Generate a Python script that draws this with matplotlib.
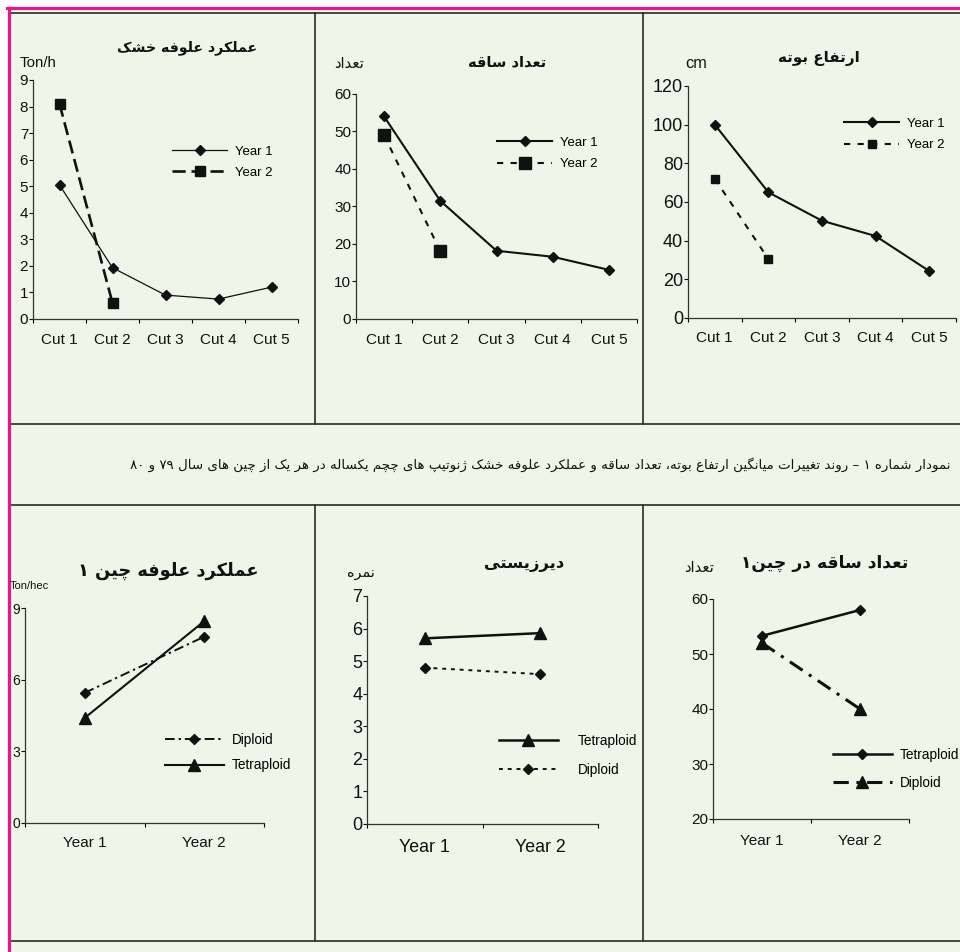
import re
import numpy as np
import matplotlib
matplotlib.use("Agg")
import matplotlib.pyplot as plt
from matplotlib import font_manager
from matplotlib.lines import Line2D
from matplotlib.patches import Rectangle

W, H = 960, 952
BG = "#eff5e9"
INK = "#111111"
FRAME = "#2b2b2b"
PINK = "#e8168c"
LATIN = ["Liberation Sans", "DejaVu Sans"]
_installed = {f.name for f in font_manager.fontManager.ttflist}
FARSI = [f for f in ("DejaVu Sans Condensed", "DejaVu Sans") if f in _installed]

# ---- data ----
cuts = ["Cut 1", "Cut 2", "Cut 3", "Cut 4", "Cut 5"]
years = ["Year 1", "Year 2"]

dm_year1 = [5.05, 1.93, 0.9, 0.75, 1.2]
dm_year2 = [8.1, 0.6]
tiller_year1 = [54, 31.5, 18.2, 16.6, 13.1]
tiller_year2 = [49, 18.1]
height_year1 = [100, 65, 50.3, 42.4, 24.3]
height_year2 = [72, 30.5]

cut1_yield_diploid = [5.45, 7.8]
cut1_yield_tetraploid = [4.4, 8.45]
persist_tetraploid = [5.7, 5.86]
persist_diploid = [4.8, 4.6]
cut1_tiller_tetraploid = [53.3, 58]
cut1_tiller_diploid = [52, 40]

# ---- texts ----
t_dm = "عملکرد علوفه خشک"
t_tiller = "تعداد ساقه"
t_height = "ارتفاع بوته"
t_cut1_yield = "عملکرد علوفه چین ۱"
t_persist = "دیرزیستی"
t_cut1_tiller = "تعداد ساقه در چین۱"
u_count = "تعداد"
u_score = "نمره"
caption = ("نمودار شماره ۱ – روند تغییرات میانگین ارتفاع بوته، تعداد ساقه و "
           "عملکرد علوفه خشک ژنوتیپ های چچم یکساله در هر یک از چین های سال ۷۹ و ۸۰")

# matplotlib has no arabic shaping, so map letters to presentation forms
# (isolated, final, initial, medial) and lay them out right-to-left by hand
FORMS = {
    "\u0627": ("\ufe8d", "\ufe8e", None, None),
    "\u0622": ("\ufe81", "\ufe82", None, None),
    "\u0628": ("\ufe8f", "\ufe90", "\ufe91", "\ufe92"),
    "\u067e": ("\ufb56", "\ufb57", "\ufb58", "\ufb59"),
    "\u062a": ("\ufe95", "\ufe96", "\ufe97", "\ufe98"),
    "\u062b": ("\ufe99", "\ufe9a", "\ufe9b", "\ufe9c"),
    "\u062c": ("\ufe9d", "\ufe9e", "\ufe9f", "\ufea0"),
    "\u0686": ("\ufb7a", "\ufb7b", "\ufb7c", "\ufb7d"),
    "\u062d": ("\ufea1", "\ufea2", "\ufea3", "\ufea4"),
    "\u062e": ("\ufea5", "\ufea6", "\ufea7", "\ufea8"),
    "\u062f": ("\ufea9", "\ufeaa", None, None),
    "\u0630": ("\ufeab", "\ufeac", None, None),
    "\u0631": ("\ufead", "\ufeae", None, None),
    "\u0632": ("\ufeaf", "\ufeb0", None, None),
    "\u0698": ("\ufb8a", "\ufb8b", None, None),
    "\u0633": ("\ufeb1", "\ufeb2", "\ufeb3", "\ufeb4"),
    "\u0634": ("\ufeb5", "\ufeb6", "\ufeb7", "\ufeb8"),
    "\u0635": ("\ufeb9", "\ufeba", "\ufebb", "\ufebc"),
    "\u0636": ("\ufebd", "\ufebe", "\ufebf", "\ufec0"),
    "\u0637": ("\ufec1", "\ufec2", "\ufec3", "\ufec4"),
    "\u0638": ("\ufec5", "\ufec6", "\ufec7", "\ufec8"),
    "\u0639": ("\ufec9", "\ufeca", "\ufecb", "\ufecc"),
    "\u063a": ("\ufecd", "\ufece", "\ufecf", "\ufed0"),
    "\u0641": ("\ufed1", "\ufed2", "\ufed3", "\ufed4"),
    "\u0642": ("\ufed5", "\ufed6", "\ufed7", "\ufed8"),
    "\u06a9": ("\ufb8e", "\ufb8f", "\ufb90", "\ufb91"),
    "\u06af": ("\ufb92", "\ufb93", "\ufb94", "\ufb95"),
    "\u0644": ("\ufedd", "\ufede", "\ufedf", "\ufee0"),
    "\u0645": ("\ufee1", "\ufee2", "\ufee3", "\ufee4"),
    "\u0646": ("\ufee5", "\ufee6", "\ufee7", "\ufee8"),
    "\u0648": ("\ufeed", "\ufeee", None, None),
    "\u0647": ("\ufee9", "\ufeea", "\ufeeb", "\ufeec"),
    "\u06cc": ("\ufbfc", "\ufbfd", "\ufbfe", "\ufbff"),
}
DIGITS = "0-9\u06f0-\u06f9"


def fa(text):
    text = text.replace("\u0643", "\u06a9").replace("\u064a", "\u06cc")
    out = []
    for i, ch in enumerate(text):
        forms = FORMS.get(ch)
        if forms is None:
            out.append(ch)
            continue
        prev = text[i - 1] if i > 0 else ""
        nxt = text[i + 1] if i + 1 < len(text) else ""
        join_prev = prev in FORMS and FORMS[prev][2] is not None
        join_next = forms[2] is not None and nxt in FORMS
        if join_prev and join_next:
            out.append(forms[3])
        elif join_prev:
            out.append(forms[1])
        elif join_next:
            out.append(forms[2])
        else:
            out.append(forms[0])
    parts = re.findall(f"[{DIGITS}]+|[^{DIGITS}]+", "".join(out))
    return "".join(p if re.match(f"[{DIGITS}]", p) else p[::-1] for p in reversed(parts))


fig = plt.figure(figsize=(W / 100, H / 100), dpi=100)
fig.patch.set_facecolor("white")
fig.add_artist(Rectangle((9 / W, 0), 1, 1 - 9 / H, transform=fig.transFigure,
                         facecolor=BG, edgecolor="none", zorder=0))
renderer = fig.canvas.get_renderer()


def px(x, y):
    return x / W, 1 - y / H


def hline(y, x0=10, x1=960, **kw):
    fig.add_artist(Line2D([x0 / W, x1 / W], [1 - y / H, 1 - y / H], **kw))


def vline(x, y0, y1, **kw):
    fig.add_artist(Line2D([x / W, x / W], [1 - y0 / H, 1 - y1 / H], **kw))


# page frame
for y in (13, 424, 505, 941):
    hline(y, color=FRAME, lw=1.2)
for x in (315, 643):
    vline(x, 13, 424, color=FRAME, lw=1.2)
    vline(x, 505, 941, color=FRAME, lw=1.2)
hline(8, x0=7, color=PINK, lw=2.3)
vline(8.6, 8, 952, color=PINK, lw=2.3)


def fit_text(x, y, s, width, ha="center", **kw):
    t = fig.text(*px(x, y), s, ha=ha, va="center", **kw)
    w = t.get_window_extent(renderer).width
    t.set_fontsize(t.get_fontsize() * width / w)
    return t


def panel(box, cats, series, ylim, yticks, ylab_fs, xlab_fs, xpad, leg):
    l, t, r, b = box
    ax = fig.add_axes([l / W, 1 - b / H, (r - l) / W, (b - t) / H])
    ax.set_facecolor("none")
    n = len(cats)
    centers = np.arange(n) + 0.5
    for vals, label, style in series:
        ax.plot(centers[:len(vals)], vals, label=label, color=INK, clip_on=False, **style)
    ax.set_xlim(0, n)
    ax.set_ylim(*ylim)
    ax.set_yticks(yticks)
    ax.set_yticklabels([f"{v:g}" for v in yticks], fontfamily=LATIN, fontsize=ylab_fs)
    ax.set_xticks(np.arange(n + 1))
    ax.set_xticklabels([])
    ax.set_xticks(centers, minor=True)
    ax.set_xticklabels(cats, minor=True, fontfamily=LATIN, fontsize=xlab_fs)
    ax.tick_params(axis="y", direction="out", length=3, width=0.8, pad=0.5, colors=INK)
    ax.tick_params(axis="x", which="major", direction="out", length=3, width=0.8)
    ax.tick_params(axis="x", which="minor", length=0, pad=xpad, colors=INK)
    for side in ("top", "right"):
        ax.spines[side].set_visible(False)
    for side in ("left", "bottom"):
        ax.spines[side].set_color("#333333")
        ax.spines[side].set_linewidth(0.9)
    lx, ly, fs, hl, tp, ls = leg
    ax.legend(loc="center left", bbox_to_anchor=px(lx, ly), bbox_transform=fig.transFigure,
              frameon=False, borderpad=0, borderaxespad=0, numpoints=1,
              handlelength=hl, handletextpad=tp, labelspacing=ls,
              prop={"family": LATIN, "size": fs})
    return ax


diamond = dict(marker="D")
square = dict(marker="s")
tri = dict(marker="^")

# top row
panel((33, 80, 298, 319), cuts,
      [(dm_year1, "Year 1", dict(lw=0.9, ms=4.8, **diamond)),
       (dm_year2, "Year 2", dict(lw=1.9, dashes=(5, 2.2), ms=7.5, **square))],
      (0, 9), range(0, 10), 11, 11, 10, (172, 162, 9.5, 4.2, 0.6, 0.65))
panel((356, 94, 637, 319), cuts,
      [(tiller_year1, "Year 1", dict(lw=1.5, ms=5, **diamond)),
       (tiller_year2, "Year 2", dict(lw=1.5, dashes=(3, 3.5), ms=8, **square))],
      (0, 60), range(0, 70, 10), 11, 11, 10, (497, 153.5, 9.5, 4.2, 0.6, 0.7))
panel((688, 86, 956, 318), cuts,
      [(height_year1, "Year 1", dict(lw=1.5, ms=5, **diamond)),
       (height_year2, "Year 2", dict(lw=1.5, dashes=(3, 3.5), ms=6, **square))],
      (0, 120), range(0, 140, 20), 13, 11, 9.5, (844, 134.5, 9.5, 4.2, 0.6, 0.7))

# bottom row
panel((25, 608, 264, 823), years,
      [(cut1_yield_diploid, "Diploid", dict(lw=1.4, dashes=(5, 2, 1.2, 2), ms=5, **diamond)),
       (cut1_yield_tetraploid, "Tetraploid", dict(lw=1.5, ms=8, **tri))],
      (0, 9), range(0, 12, 3), 10, 11, 9.5, (165, 752.5, 9.8, 4.3, 0.6, 0.85))
panel((367, 596, 598, 824), years,
      [(persist_tetraploid, "Tetraploid", dict(lw=1.8, ms=8, **tri)),
       (persist_diploid, "Diploid", dict(lw=1.4, dashes=(2, 2.5), ms=5, **diamond))],
      (0, 7), range(0, 8), 13, 12.8, 11, (499, 755.5, 9.8, 4.3, 1.5, 1.1))
panel((713, 599, 909, 819), years,
      [(cut1_tiller_tetraploid, "Tetraploid", dict(lw=1.8, ms=5, **diamond)),
       (cut1_tiller_diploid, "Diploid", dict(lw=2.2, dashes=(5, 2.5, 1, 2.5), ms=8, **tri))],
      (20, 60), range(20, 70, 10), 11, 11, 10.5, (833, 769, 9.8, 4.3, 0.6, 1.05))

# titles and unit labels (the scan's persian face is narrower than ours,
# so the widths run a little wider to keep a similar letter height)
bold = dict(family=FARSI, weight="bold", color=INK)
fit_text(187, 48, fa(t_dm), 140, **bold)
fit_text(507, 62, fa(t_tiller), 78, **bold)
fit_text(819, 58, fa(t_height), 82, **bold)
fit_text(168, 571, fa(t_cut1_yield), 180, **bold)
fit_text(524, 565, fa(t_persist), 80, **bold)
fit_text(825, 563, fa(t_cut1_tiller), 168, **bold)

fit_text(20, 63, "Ton/h", 37, ha="left", family=LATIN, color=INK)
fit_text(685, 63, "cm", 22, ha="left", family=LATIN, color=INK)
fit_text(10, 586, "Ton/hec", 39, ha="left", family=LATIN, color=INK)
fit_text(334, 63, fa(u_count), 30, ha="left", family=FARSI, color=INK)
fit_text(347, 573, fa(u_score), 28, ha="left", family=FARSI, color=INK)
fit_text(684, 568, fa(u_count), 30, ha="left", family=FARSI, color=INK)

fit_text(950, 465, fa(caption), 822, ha="right", family=FARSI, color=INK)

fig.savefig("out.png", dpi=100, facecolor=fig.get_facecolor())
